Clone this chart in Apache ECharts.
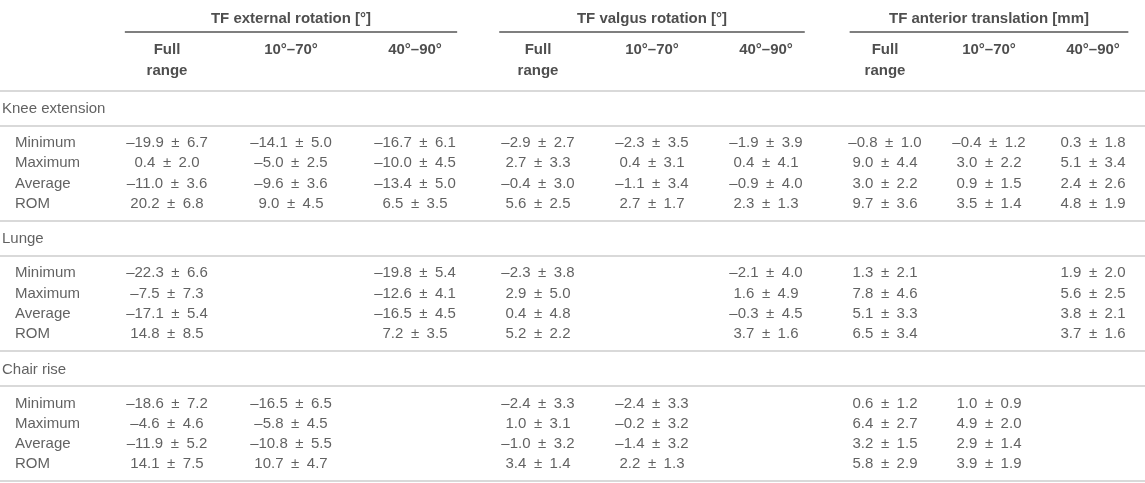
<!DOCTYPE html>
<html>
<head>
<meta charset="utf-8">
<script src="https://cdn.jsdelivr.net/npm/echarts@6.0.0/dist/echarts.min.js"></script>
<style>
  html, body { margin: 0; padding: 0; background: #ffffff; }
  #chart { width: 1145px; height: 483px; }
</style>
</head>
<body>
<div id="chart"></div>
<script>
// ---------------- DATA ----------------
const groupTitles = ['TF external rotation [°]', 'TF valgus rotation [°]', 'TF anterior translation [mm]'];
const rangeLabels = ['Full\nrange', '10°–70°', '40°–90°'];
const sections = ['Knee extension', 'Lunge', 'Chair rise'];
const statistics = ['Minimum', 'Maximum', 'Average', 'ROM'];

// columns: ext Full, ext 10-70, ext 40-90, valgus Full, valgus 10-70, valgus 40-90, ant Full, ant 10-70, ant 40-90
const kneeExtensionMean = [
  [-19.9, -14.1, -16.7, -2.9, -2.3, -1.9, -0.8, -0.4, 0.3],
  [0.4, -5.0, -10.0, 2.7, 0.4, 0.4, 9.0, 3.0, 5.1],
  [-11.0, -9.6, -13.4, -0.4, -1.1, -0.9, 3.0, 0.9, 2.4],
  [20.2, 9.0, 6.5, 5.6, 2.7, 2.3, 9.7, 3.5, 4.8]
];
const kneeExtensionSD = [
  [6.7, 5.0, 6.1, 2.7, 3.5, 3.9, 1.0, 1.2, 1.8],
  [2.0, 2.5, 4.5, 3.3, 3.1, 4.1, 4.4, 2.2, 3.4],
  [3.6, 3.6, 5.0, 3.0, 3.4, 4.0, 2.2, 1.5, 2.6],
  [6.8, 4.5, 3.5, 2.5, 1.7, 1.3, 3.6, 1.4, 1.9]
];
const lungeMean = [
  [-22.3, null, -19.8, -2.3, null, -2.1, 1.3, null, 1.9],
  [-7.5, null, -12.6, 2.9, null, 1.6, 7.8, null, 5.6],
  [-17.1, null, -16.5, 0.4, null, -0.3, 5.1, null, 3.8],
  [14.8, null, 7.2, 5.2, null, 3.7, 6.5, null, 3.7]
];
const lungeSD = [
  [6.6, null, 5.4, 3.8, null, 4.0, 2.1, null, 2.0],
  [7.3, null, 4.1, 5.0, null, 4.9, 4.6, null, 2.5],
  [5.4, null, 4.5, 4.8, null, 4.5, 3.3, null, 2.1],
  [8.5, null, 3.5, 2.2, null, 1.6, 3.4, null, 1.6]
];
const chairRiseMean = [
  [-18.6, -16.5, null, -2.4, -2.4, null, 0.6, 1.0, null],
  [-4.6, -5.8, null, 1.0, -0.2, null, 6.4, 4.9, null],
  [-11.9, -10.8, null, -1.0, -1.4, null, 3.2, 2.9, null],
  [14.1, 10.7, null, 3.4, 2.2, null, 5.8, 3.9, null]
];
const chairRiseSD = [
  [7.2, 6.5, null, 3.3, 3.3, null, 1.2, 0.9, null],
  [4.6, 4.5, null, 3.1, 3.2, null, 2.7, 2.0, null],
  [5.2, 5.5, null, 3.2, 3.2, null, 1.5, 1.4, null],
  [7.5, 4.7, null, 1.4, 1.3, null, 2.9, 1.9, null]
];
const sectionMeans = [kneeExtensionMean, lungeMean, chairRiseMean];
const sectionSDs = [kneeExtensionSD, lungeSD, chairRiseSD];

// ---------------- LAYOUT / STYLE ----------------
const FONT = '"Liberation Sans", Arial, Helvetica, sans-serif';
const TEXT = '#3a3a3a';
const HEAD = '#222222';
const RULE = '#cccccc';
const RULE_W = 1.5;
const H = 483;
const L = {
  titleY: 19, titleRuleY: 32, subTopY: 39.5, subLineHeight: 21,
  firstSectionTop: 90.5, sectionPitch: 130.2,
  labelOffset: 18.5, subRuleOffset: 35, firstRowOffset: 52.5, rowPitch: 20.3,
  ruleSpan: [-0.34, 2.34]
};
const groupGrids = [
  { left: 105, width: 372 },
  { left: 481, width: 342 },
  { left: 833, width: 334 }
];

const SP = '\u2002';
function fmt(m, s) {
  return (m < 0 ? '–' : '') + Math.abs(m).toFixed(1) + SP + '±' + SP + s.toFixed(1);
}
const secTop = k => L.firstSectionTop + k * L.sectionPitch;
const rowY = (k, i) => secTop(k) + L.firstRowOffset + i * L.rowPitch;

// ---------------- SERIES ----------------
const series = [];

// label column + full-width rules
const labelData = [];
sections.forEach((s, k) => {
  labelData.push({ value: [0, secTop(k) + L.labelOffset], name: s, label: { distance: 2 } });
  statistics.forEach((st, i) => {
    labelData.push({ value: [0, rowY(k, i)], name: st, label: { distance: 15 } });
  });
});
const rules = [];
sections.forEach((s, k) => { rules.push(secTop(k)); rules.push(secTop(k) + L.subRuleOffset); });
rules.push(secTop(sections.length));

series.push({
  type: 'scatter', xAxisIndex: 0, yAxisIndex: 0, symbolSize: 0, silent: true,
  data: labelData,
  label: { show: true, position: 'right', formatter: '{b}', color: TEXT, fontSize: 15, fontFamily: FONT },
  markLine: {
    silent: true, symbol: ['none', 'none'], label: { show: false },
    lineStyle: { type: 'solid', color: RULE, width: RULE_W },
    emphasis: { disabled: true },
    data: rules.map(y => ({ yAxis: y }))
  }
});

groupTitles.forEach((title, g) => {
  const gi = g + 1;
  // header title
  series.push({
    type: 'scatter', xAxisIndex: gi, yAxisIndex: gi, symbolSize: 0, silent: true,
    data: [{ value: [1, L.titleY], name: title }],
    label: { show: true, position: 'inside', formatter: '{b}', color: HEAD, fontSize: 15, fontWeight: 'bold', fontFamily: FONT },
    markLine: {
      silent: true, symbol: ['none', 'none'], label: { show: false },
      lineStyle: { type: 'solid', color: '#555555', width: RULE_W },
      emphasis: { disabled: true },
      data: [[{ coord: [L.ruleSpan[0], L.titleRuleY] }, { coord: [L.ruleSpan[1], L.titleRuleY] }]]
    }
  });
  // sub headers
  series.push({
    type: 'scatter', xAxisIndex: gi, yAxisIndex: gi, symbolSize: 0, silent: true,
    data: rangeLabels.map((r, c) => ({ value: [c, L.subTopY], name: r })),
    label: { show: true, position: 'inside', verticalAlign: 'top', align: 'center', formatter: '{b}', color: HEAD,
             fontSize: 15, fontWeight: 'bold', fontFamily: FONT, lineHeight: L.subLineHeight }
  });
  // cells
  const cells = [];
  sections.forEach((s, k) => {
    statistics.forEach((st, i) => {
      for (let c = 0; c < 3; c++) {
        const m = sectionMeans[k][i][g * 3 + c];
        const sd = sectionSDs[k][i][g * 3 + c];
        if (m === null || m === undefined) continue;
        cells.push({ value: [c, rowY(k, i)], name: fmt(m, sd) });
      }
    });
  });
  series.push({
    type: 'scatter', xAxisIndex: gi, yAxisIndex: gi, symbolSize: 0, silent: true,
    data: cells,
    label: { show: true, position: 'inside', formatter: '{b}', color: TEXT, fontSize: 15, fontFamily: FONT }
  });
});

const grids = [{ left: 0, right: 0, top: 0, bottom: 0 }].concat(
  groupGrids.map(g => ({ left: g.left, width: g.width, top: 0, bottom: 0 })));
const xAxes = [{ gridIndex: 0, type: 'value', min: 0, max: 1, show: false }].concat(
  groupGrids.map((g, i) => ({ gridIndex: i + 1, type: 'value', min: -0.5, max: 2.5, show: false })));
const yAxes = grids.map((g, i) => ({ gridIndex: i, type: 'value', min: 0, max: H, inverse: true, show: false }));

const chart = echarts.init(document.getElementById('chart'), null, { renderer: 'canvas' });
chart.setOption({
  animation: false,
  backgroundColor: '#ffffff',
  textStyle: { fontFamily: FONT },
  grid: grids,
  xAxis: xAxes,
  yAxis: yAxes,
  series: series
});
</script>
</body>
</html>
